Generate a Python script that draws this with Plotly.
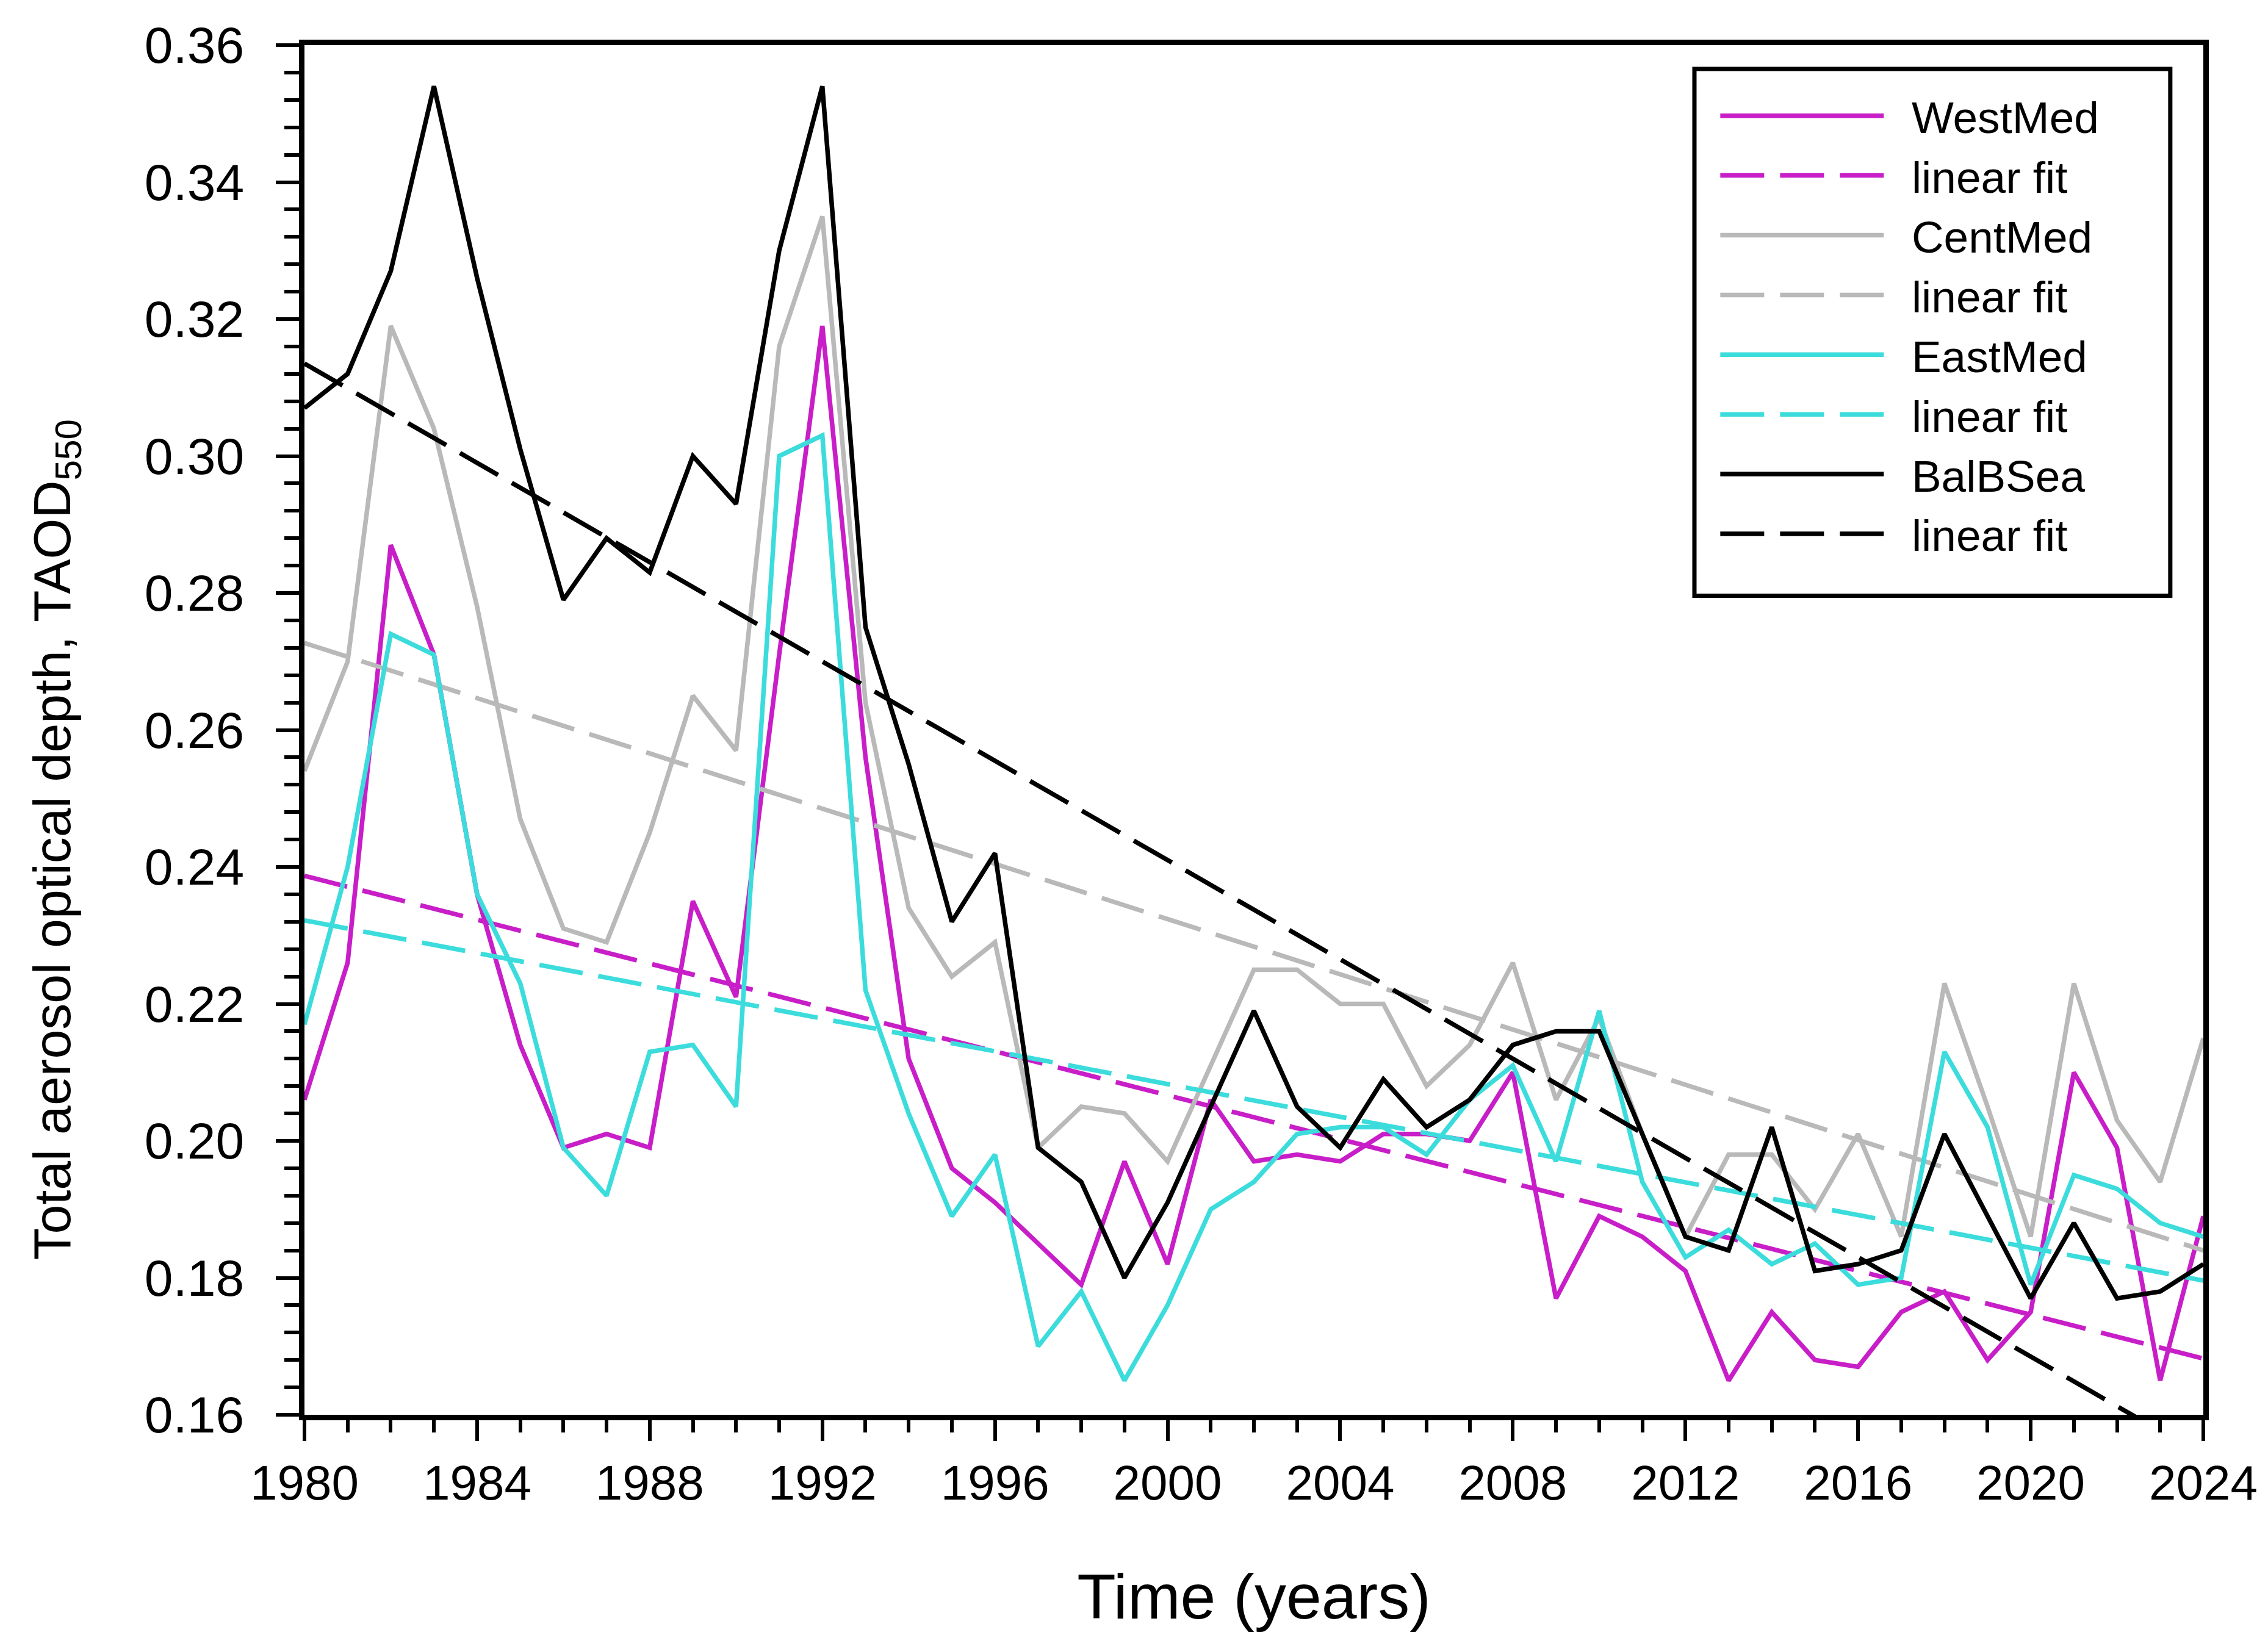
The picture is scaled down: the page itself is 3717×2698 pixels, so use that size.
import plotly.graph_objects as go

# annual mean TAOD550 per region
years = list(range(1980, 2025))

westmed = [0.206, 0.226, 0.287, 0.271, 0.236, 0.214, 0.199, 0.201, 0.199, 0.235,
           0.221, 0.271, 0.319, 0.256, 0.212, 0.196, 0.191, 0.185, 0.179, 0.197,
           0.182, 0.206, 0.197, 0.198, 0.197, 0.201, 0.201, 0.200, 0.210, 0.177,
           0.189, 0.186, 0.181, 0.165, 0.175, 0.168, 0.167, 0.175, 0.178, 0.168,
           0.175, 0.210, 0.199, 0.165, 0.189]

centmed = [0.254, 0.270, 0.319, 0.304, 0.278, 0.247, 0.231, 0.229, 0.245, 0.265,
           0.257, 0.316, 0.335, 0.264, 0.234, 0.224, 0.229, 0.199, 0.205, 0.204,
           0.197, 0.211, 0.225, 0.225, 0.220, 0.220, 0.208, 0.214, 0.226, 0.206,
           0.218, 0.201, 0.186, 0.198, 0.198, 0.190, 0.201, 0.186, 0.223, 0.205,
           0.186, 0.223, 0.203, 0.194, 0.215]

eastmed = [0.217, 0.240, 0.274, 0.271, 0.236, 0.223, 0.199, 0.192, 0.213, 0.214,
           0.205, 0.300, 0.303, 0.222, 0.204, 0.189, 0.198, 0.170, 0.178, 0.165,
           0.176, 0.190, 0.194, 0.201, 0.202, 0.202, 0.198, 0.206, 0.211, 0.197,
           0.219, 0.194, 0.183, 0.187, 0.182, 0.185, 0.179, 0.180, 0.213, 0.202,
           0.179, 0.195, 0.193, 0.188, 0.186]

balbsea = [0.307, 0.312, 0.327, 0.354, 0.326, 0.301, 0.279, 0.288, 0.283, 0.300,
           0.293, 0.330, 0.354, 0.275, 0.255, 0.232, 0.242, 0.199, 0.194, 0.180,
           0.191, 0.205, 0.219, 0.205, 0.199, 0.209, 0.202, 0.206, 0.214, 0.216,
           0.216, 0.201, 0.186, 0.184, 0.202, 0.181, 0.182, 0.184, 0.201, 0.189,
           0.177, 0.188, 0.177, 0.178, 0.182]

# end points of the linear fits (as drawn)
fit_years = [1980, 2024]
westmed_fit = [0.2387, 0.1682]
centmed_fit = [0.2727, 0.1840]
eastmed_fit = [0.2322, 0.1796]
balbsea_fit = [0.3135, 0.1540]

regions = [
    ("WestMed", westmed, westmed_fit, "#C81EC8"),
    ("CentMed", centmed, centmed_fit, "#B9B9B9"),
    ("EastMed", eastmed, eastmed_fit, "#3CDCDC"),
    ("BalBSea", balbsea, balbsea_fit, "#000000"),
]

FONT = "Arial, Liberation Sans, sans-serif"
GAP = "\u00a0\u00a0"  # space between legend line and label

fig = go.Figure()
for name, vals, fit, col in regions:
    fig.add_trace(go.Scatter(x=years, y=vals, mode="lines", name=GAP + name,
                             line=dict(color=col, width=7.5)))
    fig.add_trace(go.Scatter(x=fit_years, y=fit, mode="lines", name=GAP + "linear fit",
                             line=dict(color=col, width=7.5, dash="72px,26px")))

# legend frame drawn as a shape so the padding can match the original
fig.add_shape(type="rect", xref="paper", yref="paper",
              x0=0.732, x1=0.9826, y0=0.598, y1=0.9826,
              line=dict(color="black", width=7), fillcolor="white", layer="above")

fig.update_layout(
    width=3717, height=2698,
    margin=dict(l=491, r=114, t=66, b=387),
    paper_bgcolor="white", plot_bgcolor="white",
    font=dict(family=FONT, size=76, color="black"),
    showlegend=True,
    legend=dict(
        x=0.744, y=0.9725, xanchor="left", yanchor="top",
        bgcolor="rgba(0,0,0,0)", borderwidth=0,
        font=dict(family=FONT, size=73, color="black"),
        itemwidth=268, tracegroupgap=0,
    ),
    annotations=[dict(
        text="Total aerosol optical depth, TAOD<sub>550</sub>",
        xref="paper", yref="paper", x=-0.131, y=0.42,
        xanchor="center", yanchor="middle", textangle=-90, showarrow=False,
        font=dict(family=FONT, size=86, color="black"),
    )],
)

fig.update_xaxes(
    range=[1980, 2024], dtick=4, tick0=1980,
    showgrid=False, zeroline=False,
    showline=True, linecolor="black", linewidth=9, mirror=True,
    ticks="outside", ticklen=34, tickwidth=6, tickcolor="black",
    minor=dict(dtick=1, ticks="outside", ticklen=20, tickwidth=6, tickcolor="black"),
    tickfont=dict(family=FONT, size=80),
    title=dict(text="Time (years)", font=dict(family=FONT, size=104), standoff=110),
)

fig.update_yaxes(
    range=[0.16, 0.36], dtick=0.02, tick0=0.16, tickformat=".2f",
    showgrid=False, zeroline=False,
    showline=True, linecolor="black", linewidth=9, mirror=True,
    ticks="outside", ticklen=38, tickwidth=6, tickcolor="black",
    minor=dict(dtick=0.004, ticks="outside", ticklen=24, tickwidth=6, tickcolor="black"),
    tickfont=dict(family=FONT, size=84), ticklabelstandoff=35,
)

fig.write_html("out.html")
